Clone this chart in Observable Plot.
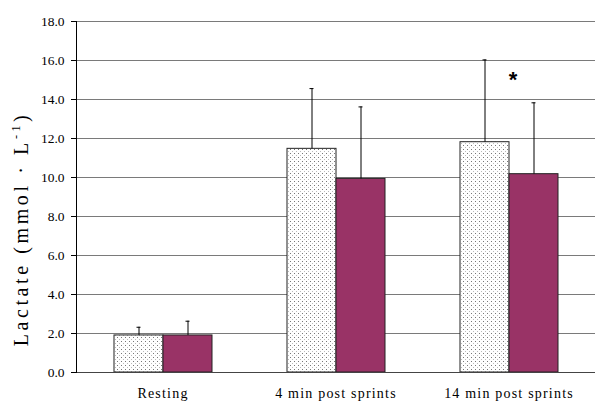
<!DOCTYPE html>
<html>
<head>
<meta charset="utf-8">
<script src="https://cdn.jsdelivr.net/npm/d3@7"></script>
<script src="https://cdn.jsdelivr.net/npm/@observablehq/plot@0.6"></script>
<style>
  html, body { margin: 0; padding: 0; background: white; }
</style>
</head>
<body>
<div id="chart"></div>
<script>
const categories = ["Resting", "4 min post sprints", "14 min post sprints"];
const seriesNames = ["Condition A", "Condition B"];
const seriesAMean = [1.90, 11.47, 11.81];
const seriesASD = [0.42, 3.09, 4.22];
const seriesBMean = [1.90, 9.93, 10.17];
const seriesBSD = [0.73, 3.69, 3.66];
const yTicks = [0, 2, 4, 6, 8, 10, 12, 14, 16, 18];
const annotations = [{cat: "14 min post sprints", y: 15.0, label: "*"}];

const rows = [];
categories.forEach((c, i) => {
  rows.push({cat: c, series: seriesNames[0], mean: seriesAMean[i], sd: seriesASD[i]});
  rows.push({cat: c, series: seriesNames[1], mean: seriesBMean[i], sd: seriesBSD[i]});
});

const serif = "'Liberation Serif', 'Times New Roman', Tinos, serif";

const svg = Plot.plot({
  width: 595,
  height: 404,
  marginLeft: 76,
  marginRight: 0,
  marginTop: 21,
  marginBottom: 32,
  style: {fontFamily: serif, background: "white", color: "black"},
  fx: {domain: categories, padding: 0, label: null, axis: null},
  x: {domain: seriesNames, paddingInner: 0, paddingOuter: 0.765, axis: null},
  y: {domain: [0, 18], axis: null},
  color: {type: "ordinal", domain: seriesNames, range: ["url(#dots)", "#993366"]},
  marks: [
    Plot.gridY(yTicks, {stroke: "#7a7a7a", strokeOpacity: 1}),
    Plot.barY(rows, {fx: "cat", x: "series", y: "mean", fill: "series", stroke: "#222", strokeWidth: 1}),
    Plot.ruleX(rows, {fx: "cat", x: "series", y1: "mean", y2: d => d.mean + d.sd, stroke: "black", strokeWidth: 1}),
    Plot.tickY(rows, {fx: "cat", x: "series", y: d => d.mean + d.sd, stroke: "black", insetLeft: 22.5, insetRight: 22.5}),
    Plot.ruleY([0], {stroke: "#444"}),
    Plot.frame({anchor: "left", facetAnchor: "left", stroke: "black"}),
    Plot.axisY(yTicks, {tickSize: 5, tickPadding: 7, tickFormat: d3.format(".1f"), fontSize: 13.5, label: null, stroke: "black"}),
    Plot.axisFx({anchor: "bottom", tickSize: 0, tickPadding: 16, fontSize: 14, label: null}),
    Plot.text(annotations, {fx: "cat", y: "y", text: "label", fontSize: 22, fontWeight: "bold", fontFamily: "'Liberation Sans', Arial, sans-serif", dx: 4})
  ]
});

const s = d3.select(svg);
const defs = s.insert("defs", ":first-child");
const pat = defs.append("pattern").attr("id", "dots").attr("patternUnits", "userSpaceOnUse")
  .attr("width", 4).attr("height", 4);
pat.append("rect").attr("width", 4).attr("height", 4).attr("fill", "white");
pat.append("rect").attr("x", 1).attr("y", 1).attr("width", 1).attr("height", 1).attr("fill", "#777");
pat.append("rect").attr("x", 3).attr("y", 3).attr("width", 1).attr("height", 1).attr("fill", "#bbb");

s.selectAll('[aria-label="fx-axis tick label"] text').style("letter-spacing", "1.2px");

const lab = s.append("text")
  .attr("transform", "translate(28,229) rotate(-90)")
  .attr("text-anchor", "middle")
  .style("font-family", serif)
  .attr("font-size", 20)
  .attr("letter-spacing", "3.6px")
  .attr("fill", "black");
lab.append("tspan").text("Lactate (mmol · L");
lab.append("tspan").attr("font-size", 12).attr("dy", -8).text("-1");
lab.append("tspan").attr("dy", 8).text(")");

document.getElementById("chart").appendChild(svg);
</script>
</body>
</html>
